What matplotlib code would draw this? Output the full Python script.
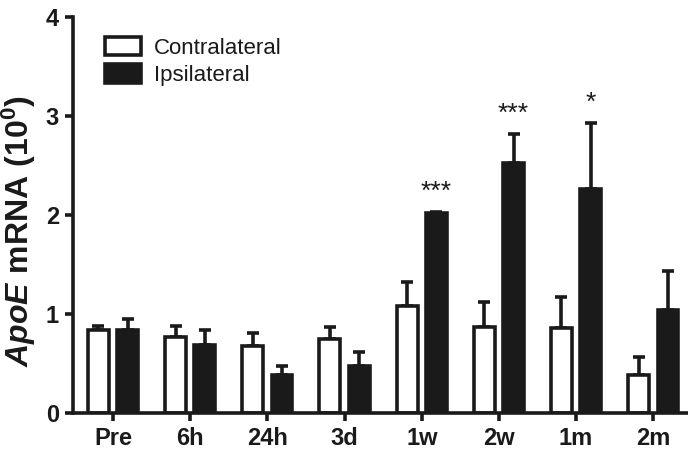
import matplotlib.pyplot as plt
import numpy as np

groups = ['Pre', '6h', '24h', '3d', '1w', '2w', '1m', '2m']
contra = [0.84, 0.77, 0.68, 0.75, 1.08, 0.87, 0.86, 0.38]
contra_err = [0.04, 0.11, 0.13, 0.12, 0.24, 0.25, 0.31, 0.19]
ipsi = [0.84, 0.69, 0.38, 0.48, 2.02, 2.53, 2.26, 1.04]
ipsi_err = [0.11, 0.15, 0.10, 0.14, 0.01, 0.29, 0.67, 0.39]
stars = ['', '', '', '', '***', '***', '*', '']

plt.rcParams['font.family'] = ['Liberation Sans', 'DejaVu Sans']
plt.rcParams['mathtext.fontset'] = 'custom'
plt.rcParams['mathtext.rm'] = 'Liberation Sans:bold'
plt.rcParams['mathtext.it'] = 'Liberation Sans:bold:italic'
plt.rcParams['mathtext.bf'] = 'Liberation Sans:bold'

ink = '#1a1a1a'

fig = plt.figure(figsize=(6.88, 4.59), dpi=100)
ax = fig.add_axes([0.106, 0.10, 0.894, 0.863])

x = np.arange(len(groups))
w = 0.27
off = 0.19
lw = 2.6

ax.bar(x - off, contra, w, color='white', edgecolor=ink, linewidth=lw,
       label='Contralateral', zorder=2)
ax.bar(x + off, ipsi, w, color=ink, edgecolor=ink, linewidth=lw,
       label='Ipsilateral', zorder=2)

# upper error bars only
ax.errorbar(x - off, contra, yerr=[np.zeros(len(x)), contra_err], fmt='none',
            ecolor=ink, elinewidth=lw, capsize=4.5, capthick=lw, zorder=1)
ax.errorbar(x + off, ipsi, yerr=[np.zeros(len(x)), ipsi_err], fmt='none',
            ecolor=ink, elinewidth=lw, capsize=4.5, capthick=lw, zorder=1)

for i, s in enumerate(stars):
    if s:
        ax.text(x[i] + off, ipsi[i] + ipsi_err[i] + 0.08, s, ha='center',
                va='bottom', fontsize=19, color=ink)

ax.set_xlim(-0.52, 7.45)
ax.set_ylim(0, 4)
ax.set_yticks([0, 1, 2, 3, 4])
ax.set_xticks(x)
ax.set_xticklabels(groups)

for side in ['top', 'right']:
    ax.spines[side].set_visible(False)
for side in ['left', 'bottom']:
    ax.spines[side].set_linewidth(lw)
    ax.spines[side].set_color(ink)

ax.tick_params(width=lw, length=6, color=ink, labelsize=17, pad=4)
for t in ax.get_xticklabels() + ax.get_yticklabels():
    t.set_fontweight('bold')
    t.set_color(ink)

ax.set_ylabel(r'$\it{ApoE}\ \mathbf{mRNA\ (10^{0})}$', fontsize=23, color=ink)
ax.yaxis.set_label_coords(-0.057, 0.46)

leg = ax.legend(loc='upper left', bbox_to_anchor=(0.02, 1.0), frameon=False,
                fontsize=16, handlelength=1.6, handleheight=0.9,
                labelspacing=0.25, handletextpad=0.6)
for t in leg.get_texts():
    t.set_color(ink)

fig.savefig('out.png', dpi=100)
